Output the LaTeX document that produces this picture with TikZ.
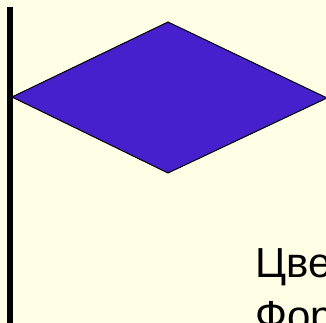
\documentclass[tikz,border=0pt]{standalone}
\usepackage{fontspec}
\setmainfont{Liberation Sans}
\definecolor{bgyellow}{HTML}{FFFFE5}
\definecolor{flagblue}{HTML}{4520CC}
\tikzset{
  pole/.style={line width=6pt},
  flagcloth/.style={draw=black,line width=1pt,fill=flagblue,line join=miter},
  caption/.style={inner sep=0pt,anchor=base west,font=\fontsize{42}{48}\selectfont}
}
\begin{document}
\begin{tikzpicture}[x=1pt,y=-1pt]
        \useasboundingbox (0,0) rectangle (326,323);
        \clip (0,0) rectangle (326,323);
        % фон
        \fill[bgyellow](0,0) rectangle (326,323);
        % древко
        \coordinate(poletop)at(10,7);
        \coordinate(polefoot)at(10,330);
        \draw[pole](poletop)--(polefoot);
        % полотнище
        \coordinate(L)at(12,97);
        \coordinate(T)at(168,22);
        \coordinate(R)at(327,98);
        \coordinate(B)at(168,173);
        \draw[flagcloth](L)--(T)--(R)--(B)--cycle;
        % подпись
        \node[caption](line1)at(255,277){Цве};
        \node[caption](line2)at(255,330){Фор};
    \end{tikzpicture}
\end{document}
